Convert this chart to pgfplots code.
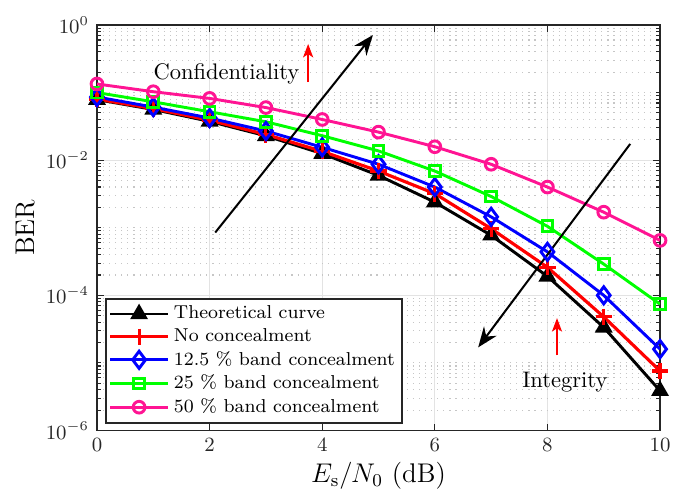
\documentclass[border=0pt]{standalone}
\usepackage{pgfplots}
\pgfplotsset{compat=1.18}
\usetikzlibrary{arrows.meta}
\definecolor{mypink}{RGB}{255,20,147}
\definecolor{axgray}{gray}{0.15}
\begin{document}
\begin{tikzpicture}
\begin{axis}[
  scale only axis, width=250.2pt, height=180.2pt,
  xmin=0, xmax=10, ymode=log, ymin=1e-6, ymax=1,
  xtick={0,2,4,6,8,10},
  ytick={1e-6,1e-4,1e-2,1},
  minor ytick={2e-6,3e-6,4e-6,5e-6,6e-6,7e-6,8e-6,9e-6,1e-5,2e-5,3e-5,4e-5,5e-5,6e-5,7e-5,8e-5,9e-5,
    2e-4,3e-4,4e-4,5e-4,6e-4,7e-4,8e-4,9e-4,1e-3,2e-3,3e-3,4e-3,5e-3,6e-3,7e-3,8e-3,9e-3,
    2e-2,3e-2,4e-2,5e-2,6e-2,7e-2,8e-2,9e-2,1e-1,2e-1,3e-1,4e-1,5e-1,6e-1,7e-1,8e-1,9e-1},
  grid=both,
  major grid style={gray!22, line width=0.5pt},
  minor grid style={gray!45, line width=0.5pt, dash pattern=on 0.5pt off 2.2pt},
  tick align=inside,
  major tick length=3pt, minor tick length=2pt,
  every tick/.style={axgray, line width=0.5pt},
  axis line style={axgray, line width=0.8pt},
  tick label style={font=\fontsize{8.8}{10}\selectfont, text=axgray},
  label style={font=\fontsize{12}{14}\selectfont},
  xlabel={$E_\mathrm{s}/N_0$ (dB)},
  ylabel={BER},
  xlabel style={yshift=2pt},
  ylabel style={yshift=-2pt},
  legend style={at={(rel axis cs:0,0)}, anchor=south west, xshift=3.6pt, yshift=2.9pt,
    font=\fontsize{8.3}{9.5}\selectfont, draw=axgray, line width=0.8pt, inner sep=1.2pt,
    row sep=-1.2pt, legend cell align=left},
  legend image code/.code={\draw[mark repeat=2,mark phase=2,#1] plot coordinates {(0cm,0cm)(0.45cm,0cm)(0.9cm,0cm)};},
]
\addplot[black, line width=1.3pt, mark=triangle*, mark size=3.3pt, mark options={solid}] coordinates {
(0,0.0786)(1,0.0563)(2,0.0375)(3,0.0229)(4,0.0125)(5,0.00595)(6,0.00239)(7,7.73e-4)(8,1.91e-4)(9,3.36e-5)(10,3.87e-6)};
\addlegendentry{Theoretical curve}
\addplot[red, line width=1.4pt, mark=+, mark size=3.6pt] coordinates {
(0,0.080)(1,0.058)(2,0.039)(3,0.024)(4,0.0135)(5,0.0069)(6,0.0032)(7,9.7e-4)(8,2.6e-4)(9,4.8e-5)(10,7.6e-6)};
\addlegendentry{No concealment}
\addplot[blue, line width=1.3pt, mark=diamond, mark size=3.8pt] coordinates {
(0,0.086)(1,0.061)(2,0.042)(3,0.027)(4,0.0155)(5,0.0087)(6,0.0040)(7,0.00145)(8,4.4e-4)(9,1.0e-4)(10,1.6e-5)};
\addlegendentry{12.5 \% band concealment}
\addplot[green, line width=1.3pt, mark=square, mark size=2.4pt] coordinates {
(0,0.100)(1,0.073)(2,0.052)(3,0.037)(4,0.023)(5,0.0137)(6,0.0069)(7,0.0029)(8,0.00105)(9,2.9e-4)(10,7.4e-5)};
\addlegendentry{25 \% band concealment}
\addplot[mypink, line width=1.3pt, mark=o, mark size=2.6pt] coordinates {
(0,0.134)(1,0.103)(2,0.082)(3,0.060)(4,0.040)(5,0.026)(6,0.0158)(7,0.0087)(8,0.0040)(9,0.0017)(10,6.5e-4)};
\addlegendentry{50 \% band concealment}

\draw[black, line width=0.9pt, -{Stealth[length=9pt, width=7pt, inset=3pt]}] (axis cs:2.1,8.5e-4) -- (axis cs:4.9,0.71);
\draw[black, line width=0.9pt, -{Stealth[length=9pt, width=7pt, inset=3pt]}] (axis cs:9.47,0.0174) -- (axis cs:6.77,1.7e-5);
\draw[red, line width=0.6pt, -{Stealth[length=6pt, width=4.5pt, inset=1.5pt]}] (axis cs:3.75,0.143) -- (axis cs:3.75,0.524);
\draw[red, line width=0.6pt, -{Stealth[length=6pt, width=4.5pt, inset=1.5pt]}] (axis cs:8.17,1.29e-5) -- (axis cs:8.17,4.6e-5);
\node[anchor=base, inner sep=0pt] at (axis cs:2.30,0.158) {Confidentiality};
\node[anchor=base, inner sep=0pt] at (axis cs:8.31,4.3e-6) {Integrity};
\end{axis}
\pgfresetboundingbox
\path[use as bounding box] ([shift={(-43.1pt,-29.1pt)}]current axis.south west) rectangle ([shift={(6.2pt,11.1pt)}]current axis.north east);
\end{tikzpicture}
\end{document}
